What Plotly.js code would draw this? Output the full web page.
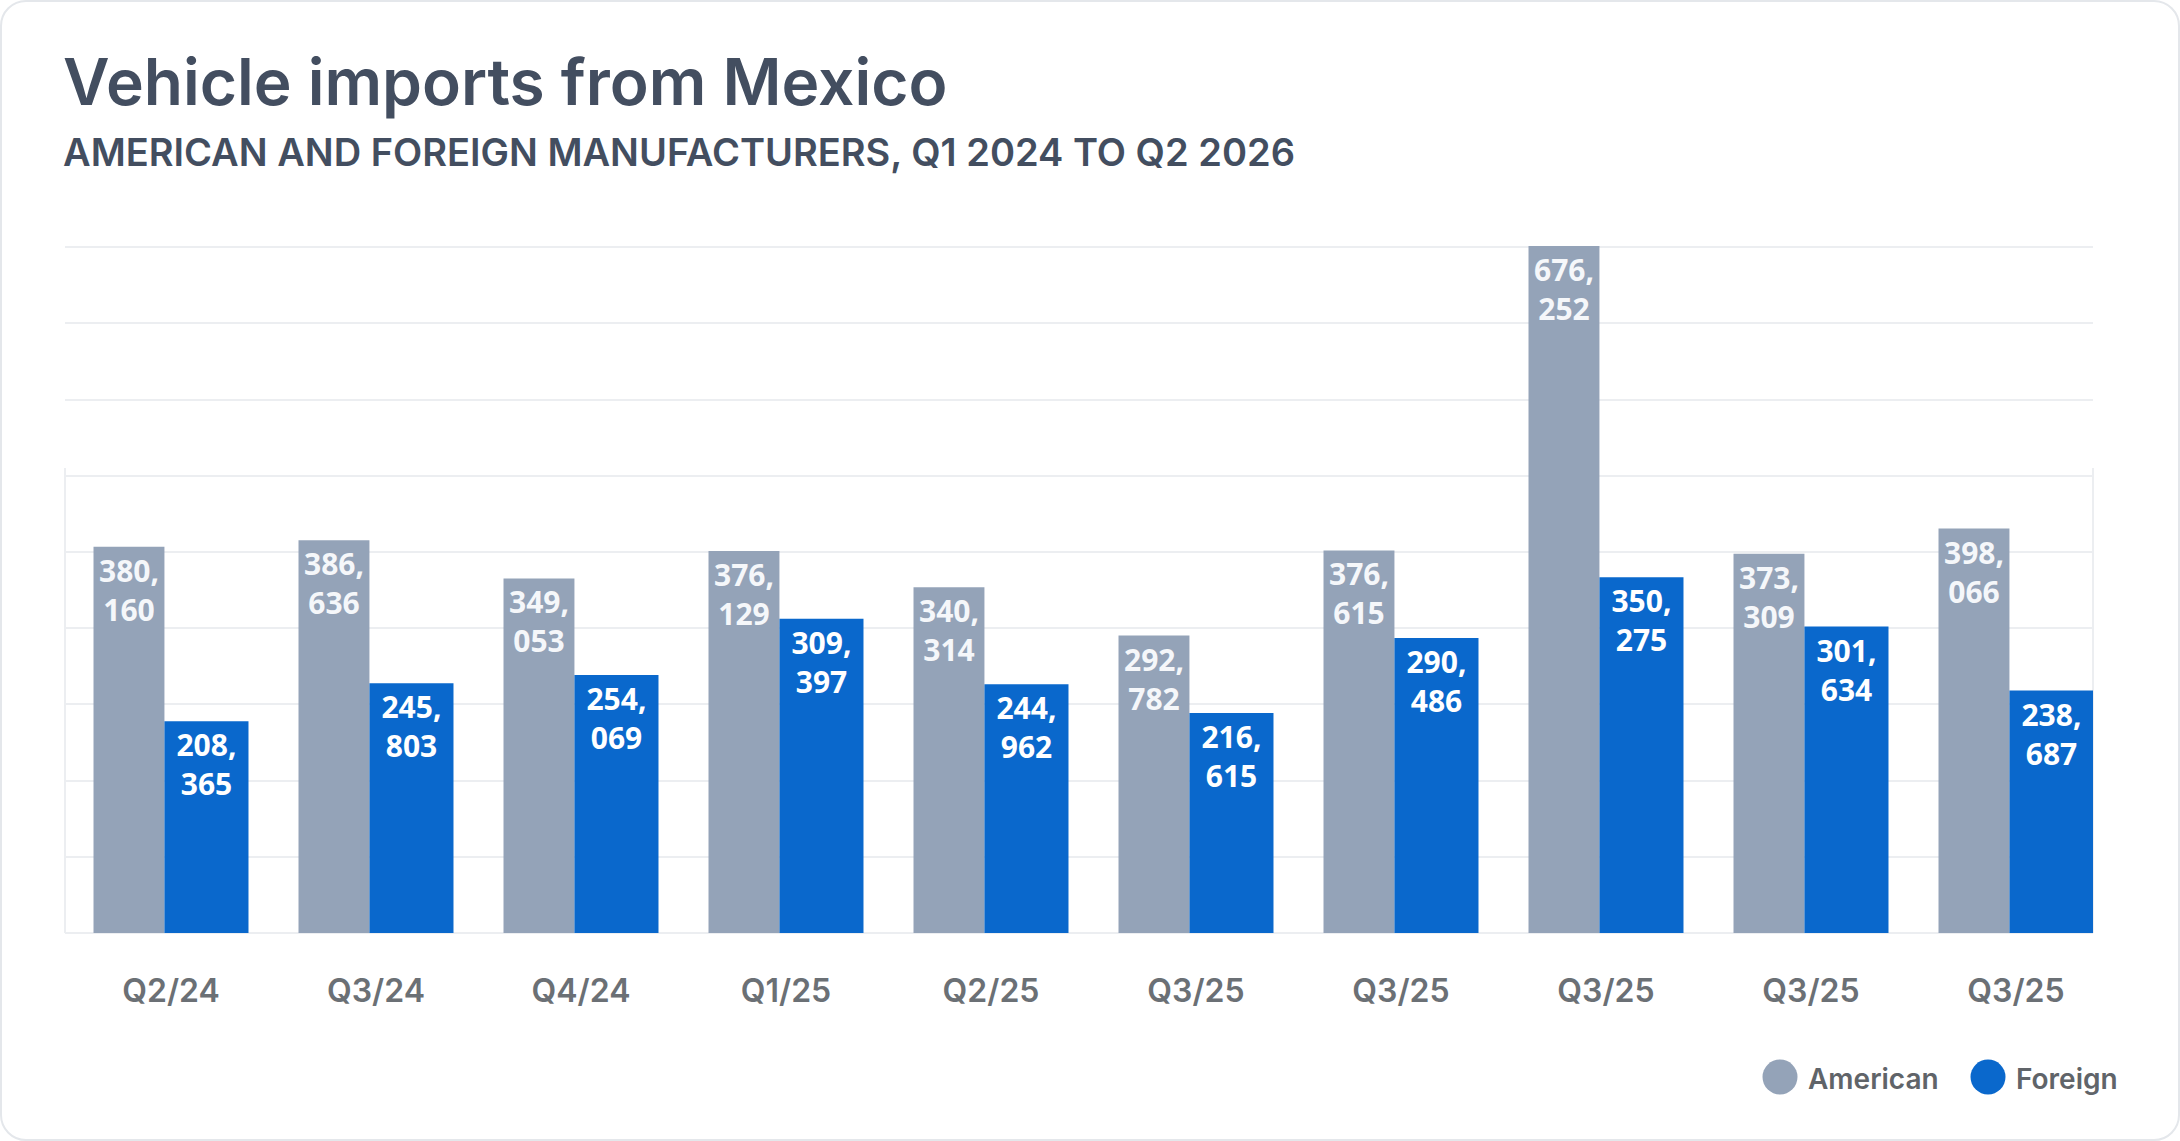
<!DOCTYPE html>
<html>
<head>
<meta charset="utf-8">
<script src="https://cdn.plot.ly/plotly-3.0.1.min.js"></script>
<style>
  html, body { margin: 0; padding: 0; background: #ffffff; }
  #wrap { position: relative; width: 2180px; height: 1141px; overflow: hidden; }
  #chart { position: absolute; left: 0; top: 0; width: 2180px; height: 1141px; }
  #frame {
    position: absolute; left: 0; top: 0; width: 2180px; height: 1141px;
    box-sizing: border-box; border: 2px solid #e4e7eb; border-radius: 26px;
    pointer-events: none;
  }
</style>
</head>
<body>
<div id="wrap">
  <div id="chart"></div>
  <div id="frame"></div>
</div>
<script>
// values
const quarters = ['Q2/24', 'Q3/24', 'Q4/24', 'Q1/25', 'Q2/25', 'Q3/25', 'Q3/25', 'Q3/25', 'Q3/25', 'Q3/25'];
const american = [380160, 386636, 349053, 376129, 340314, 292782, 376615, 676252, 373309, 398066];
const foreign = [208365, 245803, 254069, 309397, 244962, 216615, 290486, 350275, 301634, 238687];
const seriesNames = ['American', 'Foreign'];
const seriesColors = ['#94a3b8', '#0a68cc'];

const W = 2180, H = 1141;
const M = { l: 65, r: 87, t: 246, b: 208 };
const plotW = W - M.l - M.r;
const plotH = H - M.t - M.b;

// pixel -> paper helpers for the decorations
function px(x) { return (x - M.l) / plotW; }
function py(y) { return (H - M.b - y) / plotH; }

function splitLabel(v) {
  return v.toLocaleString('en-US').replace(',', ',<br>');
}

const positions = quarters.map((q, i) => i);

let barFont = { family: 'Open Sans, sans-serif', size: 30, weight: 700 };

let trace1 = {
  type: 'bar',
  name: seriesNames[0],
  x: positions,
  y: american,
  width: 0.346,
  offset: -0.378,
  marker: { color: seriesColors[0], line: { width: 0 } },
  text: american.map(splitLabel),
  textposition: 'inside',
  textangle: 0,
  constraintext: 'none',
  insidetextfont: Object.assign({ color: '#f5f7fa' }, barFont),
  hoverinfo: 'skip',
  showlegend: false
};

let trace2 = {
  type: 'bar',
  name: seriesNames[1],
  x: positions,
  y: foreign,
  width: 0.41,
  offset: -0.032,
  marker: { color: seriesColors[1], line: { width: 0 } },
  text: foreign.map(splitLabel),
  textposition: 'inside',
  textangle: 0,
  constraintext: 'none',
  insidetextfont: Object.assign({ color: '#ffffff' }, barFont),
  hoverinfo: 'skip',
  showlegend: false
};

let xStart = -(171 - M.l) / 205;
let xEnd = xStart + plotW / 205;

let shapes = [
  // faint frame lines on the lower part of the plot
  { type: 'line', xref: 'paper', yref: 'paper', x0: 0, x1: 0, y0: 0, y1: py(468),
    line: { color: '#eceef1', width: 2 }, layer: 'below' },
  { type: 'line', xref: 'paper', yref: 'paper', x0: 1, x1: 1, y0: 0, y1: py(468),
    line: { color: '#eceef1', width: 2 }, layer: 'below' }
];

let annotations = [
  { text: 'Vehicle imports from Mexico', xref: 'paper', yref: 'paper',
    x: px(61), y: py(81), xanchor: 'left', yanchor: 'middle', showarrow: false,
    font: { family: 'Inter, sans-serif', size: 64, weight: 600, color: '#434e60' } },
  { text: 'AMERICAN AND FOREIGN MANUFACTURERS, Q1 2024 TO Q2 2026', xref: 'paper', yref: 'paper',
    x: px(61), y: py(152), xanchor: 'left', yanchor: 'middle', showarrow: false,
    font: { family: 'Inter, sans-serif', size: 38, weight: 600, color: '#434e60' } }
];

// legend drawn by hand so the swatches can be large circles
let legendX = [1780, 1988];
let r = 17.5;
for (let i = 0; i < seriesNames.length; i++) {
  shapes.push({
    type: 'circle', xref: 'paper', yref: 'paper',
    x0: px(legendX[i] - r), x1: px(legendX[i] + r),
    y0: py(1077 + r), y1: py(1077 - r),
    fillcolor: seriesColors[i], line: { width: 0 }
  });
  annotations.push({
    text: seriesNames[i], xref: 'paper', yref: 'paper',
    x: px(legendX[i] + r + 8), y: py(1079), xanchor: 'left', yanchor: 'middle', showarrow: false,
    font: { family: 'Inter, sans-serif', size: 28, weight: 600, color: '#606469' }
  });
}

let layout = {
  width: W,
  height: H,
  margin: M,
  paper_bgcolor: 'rgba(0,0,0,0)',
  plot_bgcolor: 'rgba(0,0,0,0)',
  barmode: 'overlay',
  showlegend: false,
  xaxis: {
    range: [xStart, xEnd],
    tickvals: positions,
    ticktext: quarters,
    showgrid: false,
    zeroline: false,
    showline: false,
    ticks: '',
    ticklabelstandoff: 36,
    tickfont: { family: 'Inter, sans-serif', size: 32, weight: 600, color: '#6b7075' },
    fixedrange: true
  },
  yaxis: {
    range: [0, 676252],
    dtick: 75000,
    tick0: 0,
    showticklabels: false,
    showgrid: true,
    gridcolor: '#eceef1',
    gridwidth: 2,
    zeroline: true,
    zerolinecolor: '#eceef1',
    zerolinewidth: 2,
    showline: false,
    fixedrange: true
  },
  shapes: shapes,
  annotations: annotations
};

Plotly.newPlot('chart', [trace1, trace2], layout, { displayModeBar: false, staticPlot: true });
</script>
</body>
</html>
